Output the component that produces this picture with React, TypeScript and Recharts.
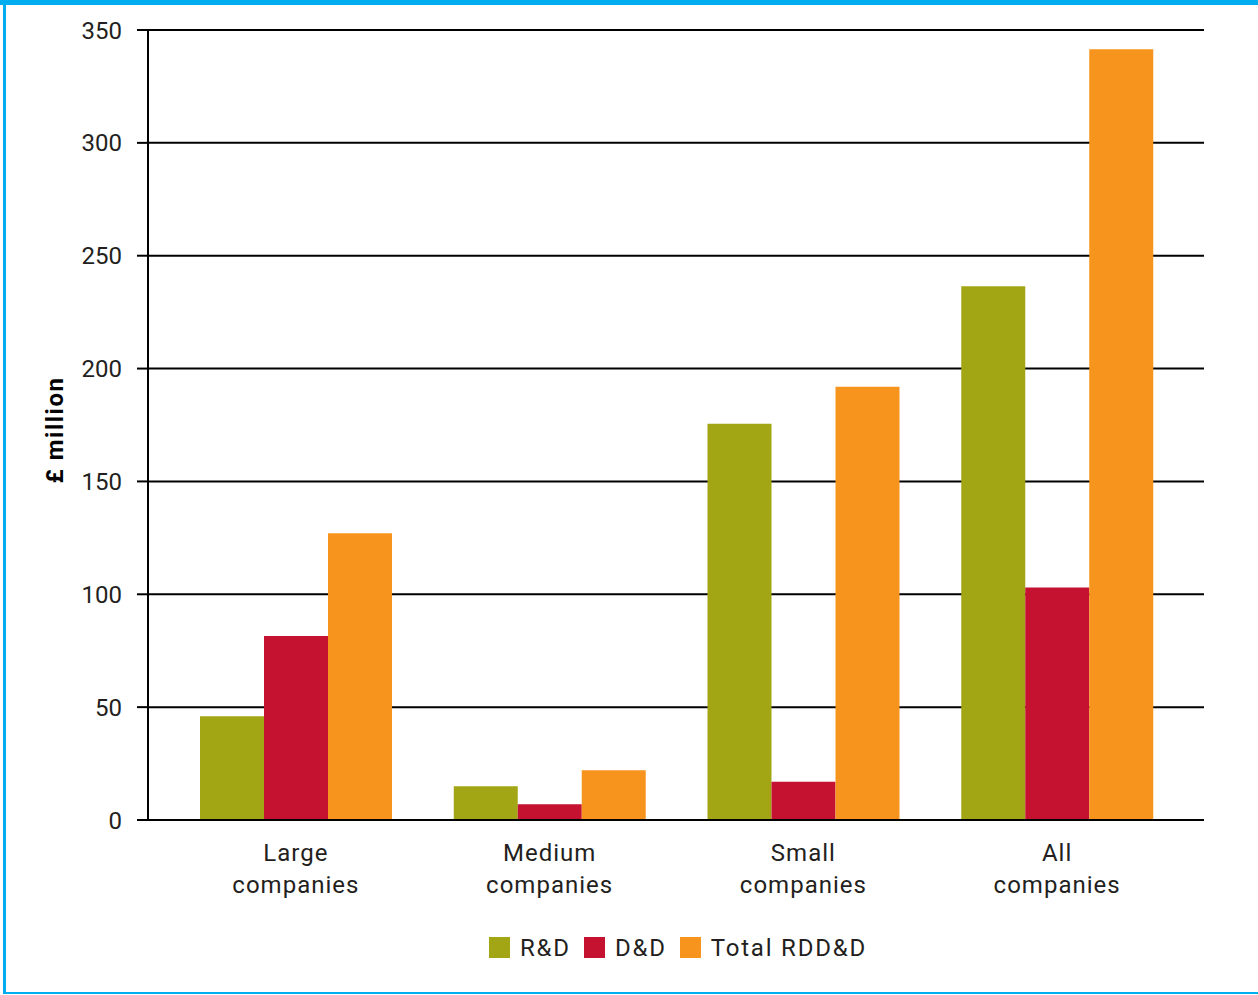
import React from 'react';
import { BarChart, Bar, XAxis, YAxis, CartesianGrid, Legend, Label } from 'recharts';

const categories = ['Large companies', 'Medium companies', 'Small companies', 'All companies'];
const rdValues = [46, 15, 175.5, 236.5];
const ddValues = [81.5, 7, 17, 103];
const totalValues = [127, 22, 192, 341.5];
const yTicks = [0, 50, 100, 150, 200, 250, 300, 350];
const seriesKeys = ['rd', 'dd', 'total'];
const seriesNames = ['R&D', 'D&D', 'Total RDD&D'];
const seriesColors = ['#A3A614', '#C41230', '#F7941E'];

const data = categories.map((c, i) => ({
  category: c,
  rd: rdValues[i],
  dd: ddValues[i],
  total: totalValues[i],
}));

const FONT = 'Roboto, "DejaVu Sans", sans-serif';
const TEXT = '#231F20';

const XTick = (props: any) => {
  const { x, y, payload } = props;
  const words = String(payload.value).split(' ');
  return (
    <text x={x} y={y} textAnchor="middle" fontSize={24} fill={TEXT} fontFamily={FONT} letterSpacing={1}>
      <tspan x={x} dy={35}>{words[0]}</tspan>
      <tspan x={x} dy={32}>{words.slice(1).join(' ')}</tspan>
    </text>
  );
};

const LegendContent = () => (
  <div style={{ height: 75, display: 'flex', justifyContent: 'flex-start', alignItems: 'center', paddingLeft: 489, fontFamily: FONT, fontSize: 24, color: TEXT, letterSpacing: 1.8 }}>
    {seriesNames.map((n, i) => (
      <div key={n} style={{ display: 'flex', alignItems: 'center', marginLeft: i === 0 ? 0 : 13 }}>
        <div style={{ width: 21, height: 21, background: seriesColors[i], marginRight: 10 }} />
        <span>{n}</span>
      </div>
    ))}
  </div>
);

const YLabel = (props: any) => {
  const vb = props.viewBox || { x: 0, y: 30, width: 148, height: 790 };
  const cx = vb.x + 55;
  const cy = vb.y + vb.height / 2 + 5;
  return (
    <text x={cx} y={cy} transform={`rotate(-90, ${cx}, ${cy})`} textAnchor="middle" dominantBaseline="central"
      fontSize={24} fontWeight="bold" fill="#000" fontFamily={FONT} letterSpacing={1.5}>
      £ million
    </text>
  );
};

export default function App() {
  return (
    <div style={{ position: 'absolute', left: 0, top: 0, width: 1258, height: 995, background: '#fff' }}>
      <div style={{ position: 'absolute', left: 0, top: 0, width: 1258, height: 5, background: '#00AEEF' }} />
      <div style={{ position: 'absolute', left: 3, top: 0, width: 3, height: 994, background: '#00AEEF' }} />
      <div style={{ position: 'absolute', left: 3, top: 992, width: 1255, height: 2, background: '#00AEEF' }} />
      <BarChart
        width={1258}
        height={995}
        data={data}
        margin={{ top: 30, right: 54, left: 0, bottom: 10 }}
        barCategoryGap={31}
        barGap={0}
      >
        <CartesianGrid horizontal vertical={false} stroke="#000" strokeWidth={2} />
        <XAxis
          dataKey="category"
          height={90}
          padding={{ left: 21, right: 20 }}
          axisLine={{ stroke: '#000', strokeWidth: 2 }}
          tickLine={false}
          tickMargin={0}
          interval={0}
          tick={<XTick />}
        />
        <YAxis
          width={148}
          domain={[0, 350]}
          ticks={yTicks}
          interval={0}
          axisLine={{ stroke: '#000', strokeWidth: 2 }}
          tickLine={{ stroke: '#000', strokeWidth: 2 }}
          tickSize={11}
          tickMargin={15}
          tick={{ fontSize: 24, fill: TEXT, fontFamily: FONT }}
        >
          <Label content={<YLabel />} />
        </YAxis>
        <YAxis
          yAxisId="right"
          orientation="right"
          width={0}
          tick={false}
          tickLine={false}
          axisLine={{ stroke: '#000', strokeWidth: 2 }}
        />
        <Legend verticalAlign="bottom" content={<LegendContent />} wrapperStyle={{ left: 0, width: 1258 }} />
        {seriesKeys.map((k, i) => (
          <Bar key={k} dataKey={k} name={seriesNames[i]} fill={seriesColors[i]} isAnimationActive={false} />
        ))}
      </BarChart>
    </div>
  );
}
